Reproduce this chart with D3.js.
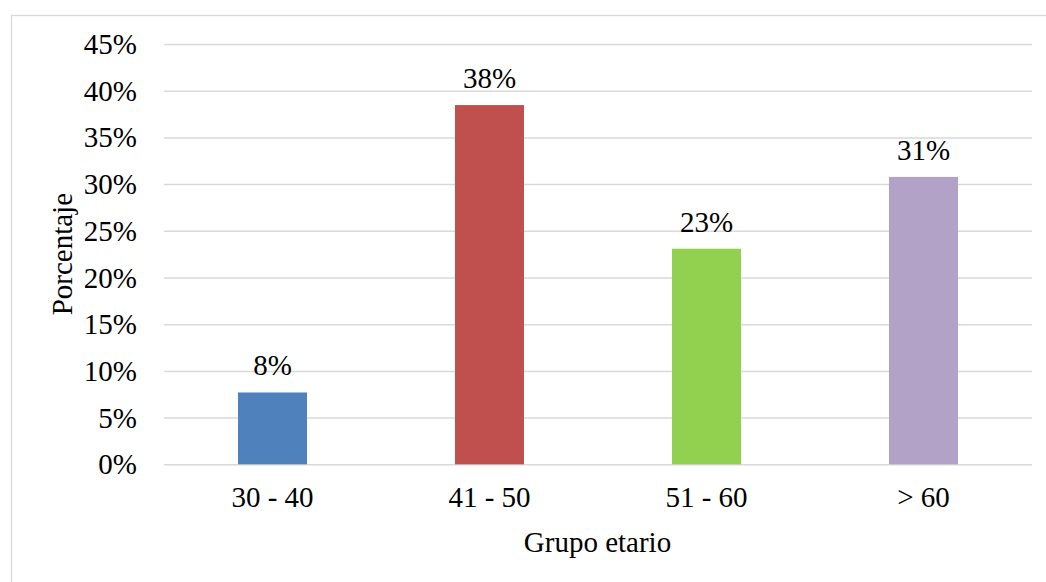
<!DOCTYPE html>
<html><head><meta charset="utf-8">
<script src="https://cdn.jsdelivr.net/npm/d3@7"></script>
<style>html,body{margin:0;padding:0;background:#fff;overflow:hidden}</style>
</head><body><svg id="c" width="1046" height="582"></svg>
<script>
const categories = ["30 - 40", "41 - 50", "51 - 60", "> 60"];
const values = [0.0769, 0.3846, 0.2308, 0.3077];
const valueLabels = ["8%", "38%", "23%", "31%"];
const colors = ["#4f81bd", "#c0504d", "#92d050", "#b3a2c7"];
const yTicks = [0, 0.05, 0.10, 0.15, 0.20, 0.25, 0.30, 0.35, 0.40, 0.45];

const svg = d3.select("#c");
const font = "'Liberation Serif','Times New Roman',serif";
const FS = 29;
const L = 164, R = 1032, T = 44, B = 464.3;

svg.append("rect").attr("x", 11.5).attr("y", 15.5).attr("width", 1100).attr("height", 700)
  .attr("fill", "#fff").attr("stroke", "#d9d9d9").attr("stroke-width", 1.3);

const x = d3.scaleBand().domain(categories).range([L, R]).paddingInner(0.682).paddingOuter(0.341);
const y = d3.scaleLinear().domain([0, 0.45]).range([B, T]);

const yAxis = svg.append("g").attr("transform", `translate(${L},0)`)
  .call(d3.axisLeft(y).tickValues(yTicks).tickFormat(d3.format(".0%")).tickSize(-(R - L)).tickPadding(27));
yAxis.select(".domain").remove();
yAxis.selectAll("line").attr("stroke", "#d9d9d9").attr("stroke-width", 1.5);
yAxis.selectAll("text").attr("font-family", font).attr("font-size", FS).attr("fill", "#000").attr("dy", "0.33em");

const bw = x.bandwidth();
svg.append("g").selectAll("rect").data(categories).join("rect")
  .attr("x", d => x(d)).attr("width", bw)
  .attr("y", (d, i) => y(values[i])).attr("height", (d, i) => B - y(values[i]))
  .attr("fill", (d, i) => colors[i]);

const xAxis = svg.append("g").attr("transform", `translate(0,${B})`)
  .call(d3.axisBottom(x).tickSize(0).tickPadding(22));
xAxis.select(".domain").remove();
xAxis.selectAll("text").attr("font-family", font).attr("font-size", FS).attr("fill", "#000").attr("dy", "0.71em");

svg.append("g").selectAll("text").data(categories).join("text")
  .attr("x", d => x(d) + bw / 2).attr("y", (d, i) => y(values[i]) - 17)
  .attr("text-anchor", "middle").attr("font-family", font).attr("font-size", FS).attr("fill", "#000")
  .text((d, i) => valueLabels[i]);

svg.append("text").attr("x", (L + R) / 2 - 0.5).attr("y", 552)
  .attr("text-anchor", "middle").attr("font-family", font).attr("font-size", FS).attr("fill", "#000")
  .text("Grupo etario");

svg.append("text").attr("transform", `translate(72,${(T + B) / 2}) rotate(-90)`)
  .attr("text-anchor", "middle").attr("font-family", font).attr("font-size", FS).attr("fill", "#000")
  .text("Porcentaje");
</script></body></html>
